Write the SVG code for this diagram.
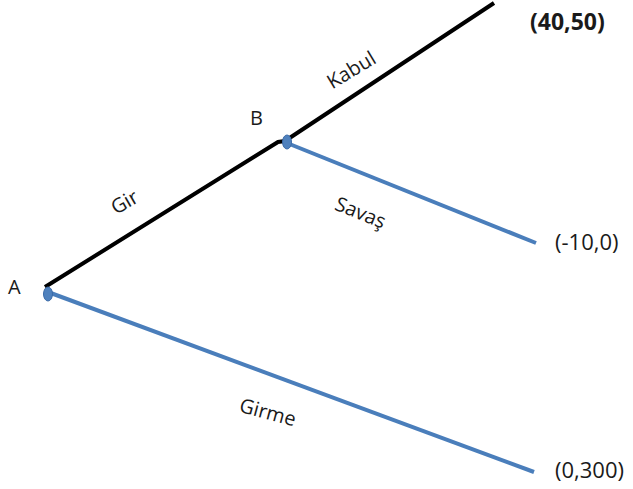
<svg xmlns="http://www.w3.org/2000/svg" width="633" height="489" viewBox="0 0 633 489">
<style>
.blk{stroke:#000;stroke-width:4;fill:none;stroke-linecap:butt}
.blu{stroke:#4a7ebb;stroke-width:4;fill:none}
.node{fill:#4f81bd;stroke:#3a6aa8;stroke-width:1}
.t{font-family:"Open Sans","Liberation Sans",sans-serif;font-size:20px;fill:#1a1a1a}
.v{font-size:22px}
.b{font-weight:bold;font-size:23px}
</style>
<g id="connectors">
<polyline class="blk" points="45,287 278,142 285,141 494,3"/>
<line class="blu" x1="48" y1="292" x2="534" y2="472"/>
<line class="blu" x1="287" y1="143" x2="536" y2="243"/>
</g>
<g id="nodeA"><ellipse class="node" cx="48" cy="294" rx="4.5" ry="7"/><text class="t" x="8" y="294">A</text></g>
<g id="nodeB"><ellipse class="node" cx="287" cy="142" rx="4.5" ry="7"/><text class="t" x="250" y="125">B</text></g>
<g id="labels">
<text class="t" transform="translate(128,208) rotate(-30)" text-anchor="middle">Gir</text>
<text class="t" transform="translate(355,76) rotate(-31)" text-anchor="middle">Kabul</text>
<text class="t" transform="translate(358,219) rotate(22)" text-anchor="middle">Savaş</text>
<text class="t" transform="translate(266,419) rotate(15)" text-anchor="middle">Girme</text>
<text class="t v b" x="530" y="30">(40,50)</text>
<text class="t v" x="555" y="250">(-10,0)</text>
<text class="t v" x="555" y="478">(0,300)</text>
</g>
</svg>
